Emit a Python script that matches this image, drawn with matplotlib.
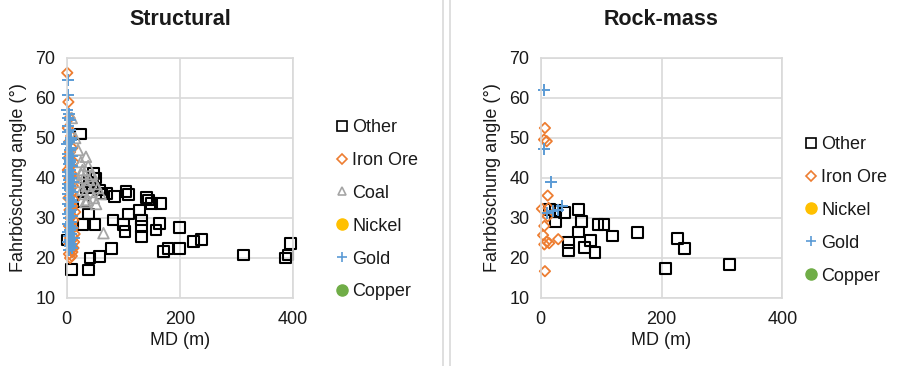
import matplotlib
matplotlib.use("Agg")
import matplotlib.pyplot as plt
from matplotlib.lines import Line2D

plt.rcParams['font.family'] = ['Liberation Sans', 'DejaVu Sans']

# ---------------- Data ----------------
titles = ["Structural", "Rock-mass"]
x_label = "MD (m)"
y_label = "Fahrböschung angle (°)"
x_ticks = [0, 200, 400]
y_ticks = [10, 20, 30, 40, 50, 60, 70]

# Structural panel
s_other_x = [25, 2, 9, 38, 41, 58, 79, 82, 50, 29, 38, 71, 85, 105, 109, 100, 103, 109, 129, 132,
             132, 132, 144, 141, 150, 166, 164, 158, 171, 179, 199, 199, 224, 238, 313, 387, 391,
             396, 48, 58, 40, 52, 45, 35, 62, 30]
s_other_y = [51, 24.5, 17.2, 17, 20, 20.3, 22.4, 29.5, 28.3, 28.4, 31, 36.2, 35.3, 36.6, 35.8,
             28.3, 26.6, 31, 32, 29.5, 27.8, 25.3, 34.5, 35.2, 33.7, 33.7, 28.7, 27, 21.6, 22.4,
             27.6, 22.4, 24.1, 24.7, 20.75, 20, 20.75, 23.7, 41.2, 37, 39, 40, 38, 37.5, 36, 34]
s_iron_x = [1, 3, 5, 2, 8, 4, 10, 6, 3, 12, 7, 2, 9, 5, 14, 4, 11, 6, 8, 3, 13, 7, 10, 5, 15,
            9, 6, 12, 8, 4, 11, 7, 14, 10, 6, 9, 13, 5, 8, 12, 7, 10, 4, 9, 6]
s_iron_y = [66.3, 59, 55, 52.5, 50.5, 49, 47.5, 46.5, 45, 44, 43, 42, 41, 40, 39.5, 38.5, 38, 37,
            36, 35, 34.5, 33.5, 33, 32, 31.5, 30.5, 30, 29.5, 28.5, 28, 27.5, 27, 26, 25.5, 25,
            24.5, 24, 23.5, 23, 22.5, 22, 21.5, 21, 20.5, 20]
s_coal_x = [9, 15, 20, 25, 34, 28, 38, 45, 30, 22, 40, 50, 35, 27, 55, 42, 32, 60, 48, 37, 33,
            65, 52, 44, 26]
s_coal_y = [55, 50, 47, 44, 45.3, 42, 43, 41, 40, 39, 39.5, 38.5, 38, 37, 37.5, 36.5, 36, 36, 35,
            34.5, 34, 26.2, 33.5, 40.5, 41]
s_gold_x = [2, 3, 1, 4, 5, 2, 6, 3, 8, 4, 1, 7, 5, 3, 9, 2, 6, 4, 10, 5, 3, 8, 2, 7, 4, 11, 6, 3,
            5, 9, 2, 4, 7, 12, 3, 6, 8, 5, 2, 10, 4, 7, 3, 6, 9, 5, 2, 8, 4, 13, 6, 3, 7, 5, 10,
            4, 2, 8, 6, 3]
s_gold_y = [64.5, 60.8, 57, 56, 54.5, 53, 52, 51.5, 50, 49, 48.5, 47.5, 47, 46, 45.5, 45, 44,
            43.5, 43, 42, 41.5, 41, 40.5, 40, 39.5, 39, 38, 37.5, 37, 36.5, 36, 35, 34.5, 34,
            33.5, 33, 32, 31.5, 31, 30.5, 30, 29, 28.5, 28, 27.5, 27, 26.5, 26, 25.5, 25, 24.5,
            24, 23.5, 23, 22.5, 22, 55, 49.5, 44.5, 38.5]

# Rock-mass panel
r_other_x = [15, 24, 40, 25, 62, 68, 62, 46, 46, 72, 82, 90, 95, 105, 119, 160, 206, 227, 238, 312]
r_other_y = [32.1, 31.9, 31.4, 29, 32.1, 29.2, 26.5, 23.9, 21.8, 22.6, 24.3, 21.4, 28.4, 28.4,
             25.5, 26.3, 17.3, 24.9, 22.4, 18.4]
r_iron_x = [7, 5.5, 10, 11.6, 2, 13, 6, 4, 10, 6, 14, 29, 7, 11.6]
r_iron_y = [52.5, 49.6, 49.2, 35.6, 32.3, 32.5, 28, 25.7, 24.1, 23.4, 23.7, 24.7, 16.7, 30.4]
r_gold_x = [6, 6, 16.5, 36, 10, 21, 29]
r_gold_y = [61.9, 47.3, 39.1, 32.9, 31.3, 31.7, 32.1]

# ---------------- Styles ----------------
C_OTHER = "#000000"
C_IRON = "#ED7D31"
C_COAL = "#A5A5A5"
C_NICKEL = "#FFC000"
C_GOLD = "#5B9BD5"
C_COPPER = "#70AD47"
GRID = "#D9D9D9"
TXT = "#1a1a1a"

fig = plt.figure(figsize=(9.19, 3.66), dpi=100)
W, H = 919, 366

def px_axes(x0, x1, y0, y1):
    return fig.add_axes([x0 / W, 1 - y1 / H, (x1 - x0) / W, (y1 - y0) / H])

ax1 = px_axes(66.7, 293, 58, 298)
ax2 = px_axes(540.7, 782.3, 58, 298)

def style(ax, title):
    ax.set_xlim(0, 400)
    ax.set_ylim(10, 70)
    ax.set_xticks(x_ticks)
    ax.set_yticks(y_ticks)
    ax.grid(True, color=GRID, linewidth=1.2)
    ax.set_axisbelow(True)
    for sp in ax.spines.values():
        sp.set_color(GRID)
        sp.set_linewidth(1.2)
    ax.tick_params(length=0, labelsize=13, colors=TXT, pad=8)
    ax.tick_params(axis='x', pad=9)
    ax.set_xlabel(x_label, fontsize=13, color=TXT, labelpad=3)
    ax.set_ylabel(y_label, fontsize=13, color=TXT, labelpad=6)
    ax.set_title(title, fontsize=15.5, fontweight="bold", pad=24, color=TXT)

sq = dict(marker="s", s=60, facecolors="none", edgecolors=C_OTHER, linewidths=1.5)
di = dict(marker="D", s=28, facecolors="none", edgecolors=C_IRON, linewidths=1.3)
tr = dict(marker="^", s=58, facecolors="none", edgecolors=C_COAL, linewidths=1.3)
pl = dict(marker="+", s=75, color=C_GOLD, linewidths=1.4)

ax1.scatter(s_other_x, s_other_y, clip_on=False, **sq)
ax1.scatter(s_iron_x, s_iron_y, clip_on=False, **di)
ax1.scatter(s_coal_x, s_coal_y, clip_on=False, **tr)
ax1.scatter(s_gold_x, s_gold_y, clip_on=False, **pl)
style(ax1, titles[0])

ax2.scatter(r_other_x, r_other_y, clip_on=False, **sq)
ax2.scatter(r_iron_x, r_iron_y, clip_on=False, **di)
ax2.scatter(r_gold_x, r_gold_y, clip_on=False, **pl)
style(ax2, titles[1])

def h(marker, color, filled=False, ms=6):
    if filled:
        return Line2D([], [], linestyle="none", marker=marker, markersize=ms,
                      markerfacecolor=color, markeredgecolor=color)
    return Line2D([], [], linestyle="none", marker=marker, markersize=ms,
                  markerfacecolor="none", markeredgecolor=color, markeredgewidth=1.2)

H_OTHER = h("s", C_OTHER, ms=6.5)
H_IRON = h("D", C_IRON, ms=5)
H_COAL = h("^", C_COAL, ms=6)
H_NICKEL = h("o", C_NICKEL, True, ms=8)
H_GOLD = h("+", C_GOLD, ms=7)
H_COPPER = h("o", C_COPPER, True, ms=8)

leg_kw = dict(frameon=False, fontsize=13, labelspacing=0.88, handlelength=0.6,
              handletextpad=0.25, borderpad=0, borderaxespad=0, labelcolor=TXT)
fig.legend([H_OTHER, H_IRON, H_COAL, H_NICKEL, H_GOLD, H_COPPER],
           ["Other", "Iron Ore", "Coal", "Nickel", "Gold", "Copper"],
           loc="upper left", bbox_to_anchor=(337 / W, 1 - 119 / H), **leg_kw)
fig.legend([H_OTHER, H_IRON, H_NICKEL, H_GOLD, H_COPPER],
           ["Other", "Iron Ore", "Nickel", "Gold", "Copper"],
           loc="upper left", bbox_to_anchor=(806 / W, 1 - 136 / H), **leg_kw)

# chart frame separators
for xp in (443, 450):
    fig.add_artist(Line2D([xp / W, xp / W], [0, 1], color=GRID, linewidth=1.2))

fig.savefig("out.png", dpi=100)
